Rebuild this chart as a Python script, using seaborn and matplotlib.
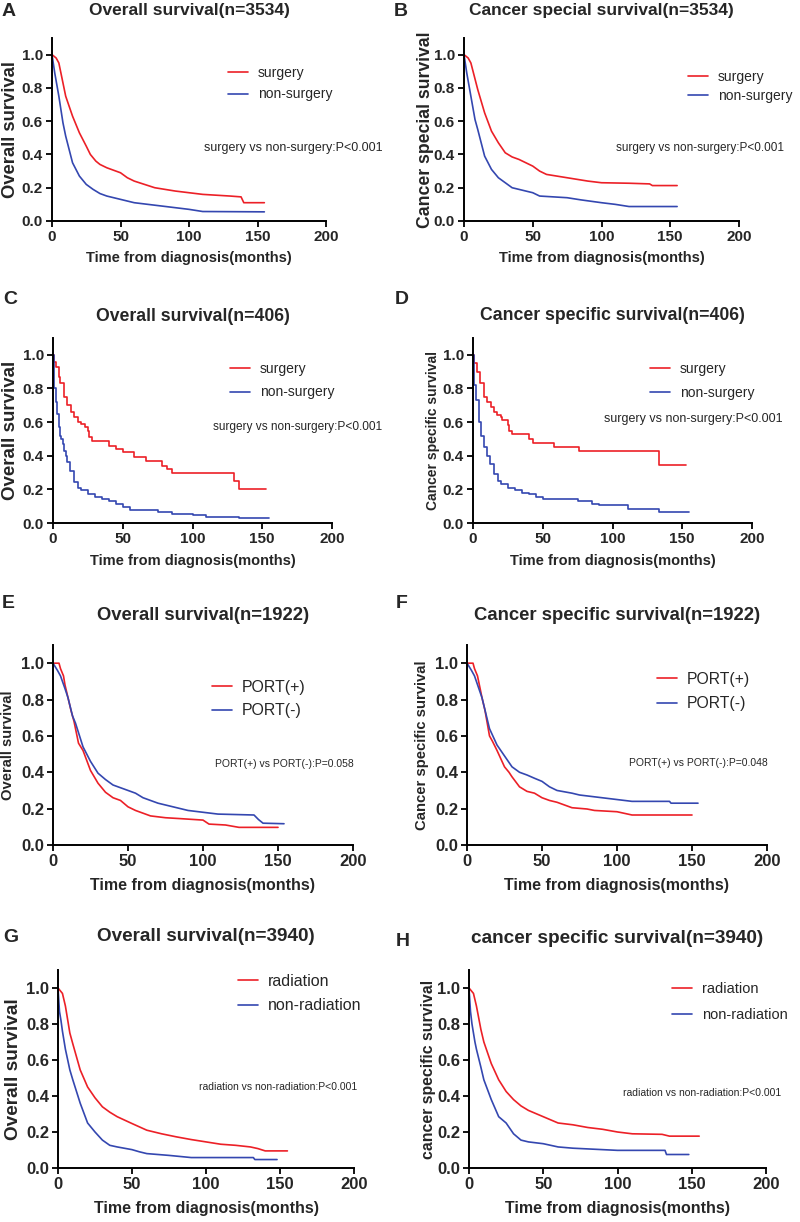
import pandas as pd
import seaborn as sns
import matplotlib.pyplot as plt

# ---- data (time in months, survival prob.) ----
# A: overall survival, surgery vs non-surgery (n=3534)
a_surg_t = [0, 3, 5, 7, 10, 15, 20, 25, 28, 32, 35, 40, 45, 50, 55, 60, 75, 90, 100, 110, 130, 138, 140, 155]
a_surg_s = [1.0, 0.98, 0.95, 0.87, 0.75, 0.63, 0.53, 0.45, 0.40, 0.36, 0.34, 0.32, 0.305, 0.29, 0.26, 0.24, 0.20, 0.18, 0.17, 0.16, 0.15, 0.145, 0.11, 0.11]
a_non_t = [0, 2, 5, 8, 10, 15, 20, 25, 30, 35, 40, 50, 60, 75, 100, 110, 155]
a_non_s = [1.0, 0.89, 0.75, 0.59, 0.51, 0.35, 0.27, 0.22, 0.19, 0.165, 0.15, 0.13, 0.11, 0.095, 0.07, 0.057, 0.055]

# B: cancer special survival, surgery vs non-surgery (n=3534)
b_surg_t = [0, 3, 5, 10, 15, 20, 25, 30, 35, 40, 50, 55, 60, 75, 90, 100, 120, 135, 137, 155]
b_surg_s = [1.0, 0.98, 0.95, 0.79, 0.65, 0.54, 0.47, 0.41, 0.385, 0.37, 0.33, 0.30, 0.28, 0.26, 0.24, 0.23, 0.227, 0.223, 0.213, 0.213]
b_non_t = [0, 2, 5, 8, 10, 15, 20, 25, 30, 35, 40, 50, 55, 75, 85, 100, 110, 120, 155]
b_non_s = [1.0, 0.89, 0.75, 0.61, 0.55, 0.39, 0.31, 0.26, 0.23, 0.20, 0.19, 0.17, 0.15, 0.14, 0.127, 0.11, 0.10, 0.087, 0.087]

# C: overall survival, surgery vs non-surgery (n=406)
c_surg_t = [0, 1, 2, 4, 5, 8, 10, 13, 15, 18, 20, 23, 25, 26, 28, 40, 45, 50, 58, 67, 78, 82, 85, 130, 133, 153]
c_surg_s = [1.0, 0.96, 0.93, 0.87, 0.83, 0.75, 0.70, 0.66, 0.63, 0.60, 0.59, 0.57, 0.545, 0.51, 0.49, 0.46, 0.44, 0.42, 0.39, 0.37, 0.34, 0.32, 0.295, 0.25, 0.20, 0.20]
c_non_t = [0, 1, 2, 3, 4, 5, 6, 7, 8, 9, 10, 12, 15, 18, 20, 25, 30, 35, 40, 45, 50, 55, 75, 85, 100, 110, 133, 155]
c_non_s = [1.0, 0.80, 0.72, 0.65, 0.57, 0.52, 0.50, 0.47, 0.43, 0.40, 0.36, 0.31, 0.245, 0.21, 0.195, 0.175, 0.155, 0.14, 0.13, 0.115, 0.095, 0.08, 0.067, 0.052, 0.046, 0.036, 0.027, 0.027]

# D: cancer specific survival, surgery vs non-surgery (n=406)
d_surg_t = [0, 1, 3, 5, 8, 10, 13, 15, 17, 20, 21, 25, 26, 28, 40, 43, 58, 76, 133, 153]
d_surg_s = [1.0, 0.95, 0.90, 0.83, 0.75, 0.72, 0.69, 0.66, 0.64, 0.63, 0.61, 0.58, 0.55, 0.53, 0.50, 0.475, 0.45, 0.43, 0.345, 0.345]
d_non_t = [0, 1, 2, 4, 6, 8, 10, 12, 15, 18, 20, 25, 30, 35, 40, 45, 50, 75, 85, 90, 111, 133, 155]
d_non_s = [1.0, 0.82, 0.73, 0.60, 0.52, 0.45, 0.40, 0.35, 0.29, 0.25, 0.23, 0.21, 0.195, 0.18, 0.175, 0.155, 0.143, 0.13, 0.115, 0.105, 0.085, 0.065, 0.065]

# E: overall survival, PORT(+) vs PORT(-) (n=1922)
e_pos_t = [0, 4, 5, 7, 8, 10, 12, 14, 15, 17, 20, 25, 30, 35, 40, 45, 50, 55, 60, 65, 75, 85, 100, 104, 115, 124, 150]
e_pos_s = [1.0, 1.0, 0.97, 0.93, 0.88, 0.81, 0.74, 0.68, 0.64, 0.56, 0.52, 0.41, 0.34, 0.29, 0.26, 0.245, 0.21, 0.19, 0.175, 0.16, 0.15, 0.145, 0.137, 0.115, 0.11, 0.097, 0.097]
e_neg_t = [0, 3, 5, 8, 10, 13, 15, 20, 25, 30, 35, 40, 50, 55, 60, 70, 80, 90, 100, 110, 134, 137, 140, 154]
e_neg_s = [1.0, 0.96, 0.93, 0.86, 0.81, 0.71, 0.67, 0.54, 0.46, 0.395, 0.36, 0.33, 0.30, 0.285, 0.26, 0.23, 0.21, 0.19, 0.18, 0.17, 0.165, 0.14, 0.12, 0.117]

# F: cancer specific survival, PORT(+) vs PORT(-) (n=1922)
f_pos_t = [0, 4, 5, 7, 10, 12, 15, 17, 20, 25, 28, 30, 35, 40, 45, 50, 55, 60, 65, 70, 80, 85, 100, 105, 110, 150]
f_pos_s = [1.0, 1.0, 0.97, 0.93, 0.81, 0.74, 0.60, 0.57, 0.52, 0.43, 0.40, 0.375, 0.32, 0.295, 0.285, 0.26, 0.245, 0.235, 0.22, 0.205, 0.198, 0.19, 0.183, 0.174, 0.165, 0.165]
f_neg_t = [0, 3, 5, 10, 15, 20, 25, 30, 35, 40, 45, 50, 55, 60, 70, 75, 90, 100, 110, 135, 136, 154]
f_neg_s = [1.0, 0.96, 0.93, 0.81, 0.64, 0.55, 0.49, 0.43, 0.40, 0.385, 0.367, 0.35, 0.32, 0.30, 0.285, 0.275, 0.26, 0.25, 0.24, 0.24, 0.23, 0.23]

# G: overall survival, radiation vs non-radiation (n=3940)
g_rad_t = [0, 3, 5, 8, 10, 15, 20, 25, 30, 35, 40, 50, 60, 70, 80, 90, 100, 110, 120, 130, 135, 140, 155]
g_rad_s = [1.0, 0.97, 0.90, 0.75, 0.69, 0.545, 0.45, 0.39, 0.34, 0.31, 0.285, 0.247, 0.21, 0.19, 0.173, 0.158, 0.145, 0.132, 0.126, 0.117, 0.108, 0.095, 0.095]
g_non_t = [0, 1, 2, 3, 5, 8, 10, 15, 20, 25, 30, 35, 40, 50, 55, 60, 75, 90, 132, 133, 148]
g_non_s = [1.0, 0.87, 0.82, 0.76, 0.66, 0.545, 0.49, 0.36, 0.25, 0.20, 0.155, 0.126, 0.117, 0.102, 0.09, 0.08, 0.07, 0.058, 0.058, 0.047, 0.047]

# H: cancer specific survival, radiation vs non-radiation (n=3940)
h_rad_t = [0, 3, 5, 8, 10, 15, 20, 25, 30, 35, 40, 50, 60, 70, 80, 90, 100, 110, 130, 135, 155]
h_rad_s = [1.0, 0.97, 0.90, 0.77, 0.70, 0.58, 0.49, 0.425, 0.38, 0.345, 0.32, 0.285, 0.25, 0.24, 0.225, 0.215, 0.20, 0.19, 0.187, 0.177, 0.177]
h_non_t = [0, 1, 2, 4, 5, 8, 10, 15, 20, 25, 30, 35, 40, 50, 55, 60, 70, 90, 100, 132, 133, 148]
h_non_s = [1.0, 0.87, 0.80, 0.70, 0.66, 0.56, 0.49, 0.38, 0.285, 0.25, 0.19, 0.155, 0.145, 0.135, 0.126, 0.117, 0.11, 0.102, 0.098, 0.098, 0.075, 0.075]

surg_labels = ['surgery', 'non-surgery']
port_labels = ['PORT(+)', 'PORT(-)']
rad_labels = ['radiation', 'non-radiation']

x_ticks = [0, 50, 100, 150, 200]
y_ticks = [0.0, 0.2, 0.4, 0.6, 0.8, 1.0]

RED = '#ec2027'
BLUE = '#3447b0'

sns.set_style('ticks')
plt.rcParams['font.family'] = ['Liberation Sans', 'DejaVu Sans']

W, H = 800, 1222
fig = plt.figure(figsize=(W / 100, H / 100), dpi=100)


def px_axes(left, right, top, bottom):
    return fig.add_axes([left / W, 1 - bottom / H, (right - left) / W, (bottom - top) / H])


# layout per panel: axes box (px), text sizes, legend anchor, p-value position
panels = [
    dict(letter='A', box=(52, 326, 38, 221), lpos=(9, 12), title='Overall survival(n=3534)', ty=1.153, tfs=12.5,
         ylabel='Overall survival', yfs=13.3, ylx=-0.12, tick=11, xfs=10.5,
         curves=[(a_surg_t, a_surg_s), (a_non_t, a_non_s)], labels=surg_labels, lfs=10,
         leg=(0.642, 0.751), pitch=23, ptext='surgery vs non-surgery:P<0.001', pfs=9, ppos=(0.88, 0.40), steps=False),
    dict(letter='B', box=(464, 739, 38, 221), lpos=(401, 12), title='Cancer special survival(n=3534)', ty=1.153, tfs=12.5,
         ylabel='Cancer special survival', yfs=12.7, ylx=-0.11, tick=11, xfs=10.5,
         curves=[(b_surg_t, b_surg_s), (b_non_t, b_non_s)], labels=surg_labels, lfs=10,
         leg=(0.815, 0.735), pitch=21, ptext='surgery vs non-surgery:P<0.001', pfs=8.5, ppos=(0.86, 0.40), steps=False),
    dict(letter='C', box=(53, 332, 338, 523), lpos=(10, 300), title='Overall survival(n=406)', ty=1.114, tfs=12.7,
         ylabel='Overall survival', yfs=13.5, ylx=-0.122, tick=11, xfs=10.5,
         curves=[(c_surg_t, c_surg_s), (c_non_t, c_non_s)], labels=surg_labels, lfs=10,
         leg=(0.634, 0.77), pitch=25, ptext='surgery vs non-surgery:P<0.001', pfs=8.6, ppos=(0.875, 0.52), steps=True),
    dict(letter='D', box=(473, 752, 338, 523), lpos=(402, 300), title='Cancer specific survival(n=406)', ty=1.119, tfs=12.7,
         ylabel='Cancer specific survival', yfs=10, ylx=-0.118, tick=11, xfs=10.5,
         curves=[(d_surg_t, d_surg_s), (d_non_t, d_non_s)], labels=surg_labels, lfs=10,
         leg=(0.634, 0.768), pitch=26, ptext='surgery vs non-surgery:P<0.001', pfs=9, ppos=(0.79, 0.56), steps=True),
    dict(letter='E', box=(53, 353, 645, 845), lpos=(8, 603), title='Overall survival(n=1922)', ty=1.148, tfs=13.3,
         ylabel='Overall survival', yfs=10.6, ylx=-0.127, tick=12, xfs=11.5,
         curves=[(e_pos_t, e_pos_s), (e_neg_t, e_neg_s)], labels=port_labels, lfs=11.4,
         leg=(0.53, 0.73), pitch=26, ptext='PORT(+) vs PORT(-):P=0.058', pfs=7.5, ppos=(0.77, 0.405), steps=False),
    dict(letter='F', box=(467, 767, 645, 845), lpos=(402, 603), title='Cancer specific survival(n=1922)', ty=1.148, tfs=13.3,
         ylabel='Cancer specific survival', yfs=10.7, ylx=-0.127, tick=12, xfs=11.5,
         curves=[(f_pos_t, f_pos_s), (f_neg_t, f_neg_s)], labels=port_labels, lfs=11.3,
         leg=(0.633, 0.7675), pitch=27, ptext='PORT(+) vs PORT(-):P=0.048', pfs=7.5, ppos=(0.77, 0.41), steps=False),
    dict(letter='G', box=(58, 354, 970, 1168), lpos=(11, 938), title='Overall survival(n=3940)', ty=1.17, tfs=13.6,
         ylabel='Overall survival', yfs=13.7, ylx=-0.123, tick=12, xfs=11.5,
         curves=[(g_rad_t, g_rad_s), (g_non_t, g_non_s)], labels=rad_labels, lfs=11.5,
         leg=(0.608, 0.881), pitch=27, ptext='radiation vs non-radiation:P<0.001', pfs=7.5, ppos=(0.745, 0.41), steps=False),
    dict(letter='H', box=(469, 766, 970, 1168), lpos=(403, 941), title='cancer specific survival(n=3940)', ty=1.16, tfs=13.7,
         ylabel='cancer specific survival', yfs=11.4, ylx=-0.111, tick=12, xfs=11.5,
         curves=[(h_rad_t, h_rad_s), (h_non_t, h_non_s)], labels=rad_labels, lfs=10.5,
         leg=(0.684, 0.838), pitch=28, ptext='radiation vs non-radiation:P<0.001', pfs=7.5, ppos=(0.785, 0.38), steps=False),
]

for p in panels:
    ax = px_axes(*p['box'])
    frames = []
    for (t, s), lab in zip(p['curves'], p['labels']):
        frames.append(pd.DataFrame({'time': t, 'surv': s, 'group': lab}))
    df = pd.concat(frames, ignore_index=True)
    sns.lineplot(data=df, x='time', y='surv', hue='group', hue_order=p['labels'],
                 palette=[RED, BLUE], estimator=None, sort=False, legend=False,
                 drawstyle='steps-post' if p['steps'] else 'default',
                 linewidth=1.2, ax=ax)

    ax.set_xlim(0, 200)
    ax.set_ylim(0, 1.1)
    ax.set_xticks(x_ticks)
    ax.set_yticks(y_ticks)
    ax.set_xticklabels([str(v) for v in x_ticks])
    ax.set_yticklabels([f'{v:.1f}' for v in y_ticks])
    for lab in ax.get_xticklabels() + ax.get_yticklabels():
        lab.set_fontweight('bold')
        lab.set_fontsize(p['tick'])
    ax.tick_params(direction='out', length=4.5, width=1.3, color='black', pad=2)
    sns.despine(ax=ax)
    for side in ['left', 'bottom']:
        ax.spines[side].set_linewidth(1.4)
        ax.spines[side].set_color('black')
    ax.margins(0)

    ax.set_xlabel('Time from diagnosis(months)', fontsize=p['xfs'], fontweight='bold')
    ax.xaxis.set_label_coords(0.5, -0.165)
    ax.set_ylabel(p['ylabel'], fontsize=p['yfs'], fontweight='bold')
    ax.yaxis.set_label_coords(p['ylx'], 0.5)

    ax.text(0.5, p['ty'], p['title'], transform=ax.transAxes, ha='center', va='center',
            fontsize=p['tfs'], fontweight='bold')
    fig.text(p['lpos'][0] / W, 1 - p['lpos'][1] / H, p['letter'], ha='center', va='center',
             fontsize=14, fontweight='bold')

    # legend, no frame, placed where the original has it
    fs_px = p['lfs'] * 100 / 72
    ax.legend(ax.lines[:2], p['labels'], loc='center left', bbox_to_anchor=p['leg'],
              frameon=False, fontsize=p['lfs'], borderpad=0, borderaxespad=0,
              handlelength=20 / fs_px, handletextpad=10 / fs_px,
              labelspacing=max((p['pitch'] - 1.1 * fs_px) / fs_px, 0.1))

    ax.text(p['ppos'][0], p['ppos'][1], p['ptext'], transform=ax.transAxes, ha='center',
            va='center', fontsize=p['pfs'], clip_on=False)

plt.savefig('out.png', dpi=100)
